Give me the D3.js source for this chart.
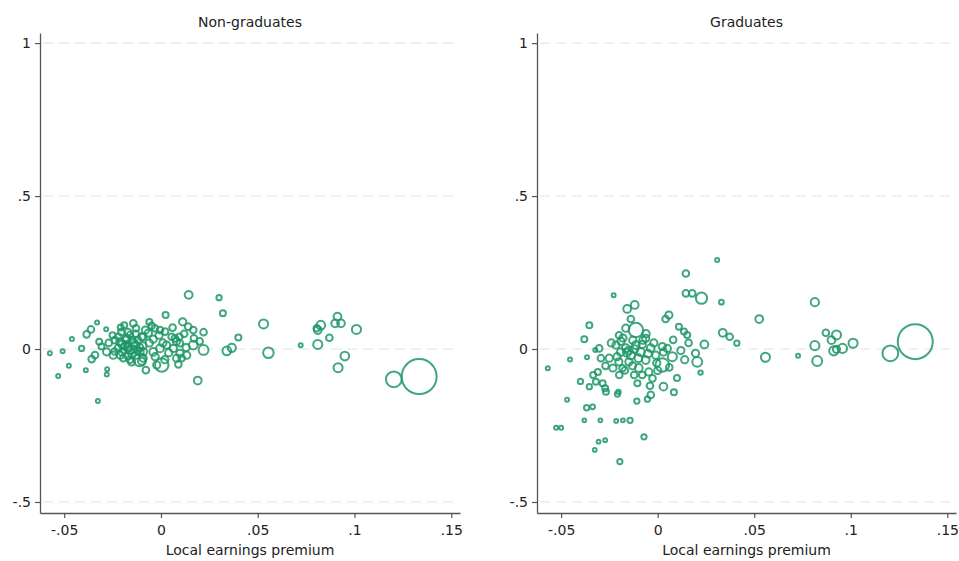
<!DOCTYPE html>
<html>
<head>
<meta charset="utf-8">
<script src="https://cdn.jsdelivr.net/npm/d3@7"></script>
<style>
    body { margin: 0; background: #fff; }
    svg text { font-family: "DejaVu Sans", sans-serif; fill: #222; }
</style>
</head>
<body>
<div id="chart"></div>
<script>
// x = local earnings premium, y = outcome, w = cell weight (bubble size)
const nonGradPoints = [
    [-0.0574,-0.014,0.8],[-0.0508,-0.007,0.8],[-0.0531,-0.088,0.8],[-0.0476,-0.055,0.8],
    [-0.046,0.033,0.8],[-0.041,0.002,1.5],[-0.0388,-0.069,0.8],[-0.033,0.087,0.8],
    [-0.0326,-0.170,0.8],[-0.0283,0.065,0.8],[-0.0278,-0.066,0.8],[-0.028,-0.083,0.8],
    [-0.0362,0.064,2.5],[-0.0384,0.048,2.5],[-0.0358,-0.033,2.5],[-0.0341,-0.020,2.5],
    [-0.0307,0.008,2],[-0.0319,0.024,2],[-0.0281,-0.009,3],[-0.0247,-0.020,3],
    [-0.0208,0.070,2],[-0.0143,0.084,2.5],[-0.0129,0.068,2.5],[-0.0048,0.076,2.5],
    [-0.0031,0.068,2.5],[-0.0005,0.062,2.5],[0.0021,0.057,2.5],[0.0055,0.040,2.5],
    [0.0095,0.040,2.5],[-0.0092,0.040,3],[-0.0177,0.035,3],[-0.016,0.046,2.5],
    [-0.0212,0.023,3],[-0.0186,0.010,3.5],[-0.016,-0.003,4],[-0.0134,0.013,3.5],
    [-0.0109,-0.010,3.5],[-0.0202,-0.010,3],[-0.0171,-0.023,3],[-0.0129,-0.020,3],
    [-0.0222,0.003,2.5],[-0.015,0.029,3],[-0.0119,0.029,2.5],[-0.0176,0.016,2],
    [-0.0093,0.010,3],[-0.0238,0.029,2.5],[-0.0092,-0.009,3.5],[-0.004,-0.009,3.5],
    [-0.0005,0.002,3.5],[0.0029,0.013,3],[0.0064,0.002,3],[0.0098,-0.014,3],
    [0.0133,-0.020,3],[0.0167,0.013,4.5],[-0.0022,-0.052,3],[0.0004,-0.052,12],
    [-0.0152,-0.042,3],[-0.0092,-0.030,3],[-0.0195,-0.030,2.5],[0.0081,-0.030,3],
    [0.0107,-0.030,2.5],[-0.0078,-0.069,2.5],[0.019,-0.103,3.5],[0.0024,0.111,2],
    [0.0112,0.089,3],[0.0141,0.073,2.5],[0.0167,0.062,2.5],[0.022,0.055,2.5],
    [0.0072,0.035,2.5],[0.0098,0.019,2.5],[0.0143,0.177,3.6],[0.030,0.168,1.5],
    [0.032,0.117,2],[0.040,0.038,2],[0.053,0.082,5],[0.034,-0.006,4.5],
    [0.0366,0.004,4],[0.0555,-0.012,7],[0.022,-0.003,6],[0.0722,0.012,0.8],
    [0.081,0.015,5],[0.087,0.037,2.5],[0.081,0.062,3.5],[0.0826,0.078,4.5],
    [0.0805,0.068,2.5],[0.0912,0.106,3.5],[0.090,0.084,3.5],[0.093,0.084,3.5],
    [0.101,0.064,5],[0.095,-0.023,4.5],[0.0915,-0.061,5],[0.1203,-0.099,17],
    [0.1334,-0.090,100],
    [-0.014,0.000,3],[-0.019,-0.005,2.5],[-0.011,0.005,3],[-0.006,0.020,3],
    [-0.003,-0.025,3],[0.004,-0.012,3],[-0.025,0.045,2],[-0.0065,0.052,3],
    [0.012,0.050,2.5],[-0.0205,0.055,2.5],
    [-0.022,0.040,2.5],[-0.017,0.055,2.5],[-0.008,0.062,3],[-0.001,0.045,3],
    [0.006,0.070,2.5],[0.008,0.025,3],[0.013,0.005,3],[-0.004,0.032,3],
    [-0.010,-0.040,3],[-0.024,-0.008,2.5],[-0.013,0.050,2.5],[-0.027,0.020,2.5],
    [0.017,0.035,2.5],[0.002,-0.035,3],[-0.019,0.078,2],[-0.006,0.088,2],
    [0.001,0.020,3],[-0.016,-0.035,2.5],[0.020,0.025,2.5],[0.009,-0.050,2.5],
    [-0.020,0.015,3.5],[-0.017,0.005,3.5],[-0.014,0.020,3.5],[-0.012,-0.005,3],
    [-0.018,0.030,3],[-0.015,-0.015,3.5],[-0.010,0.040,3],[-0.021,-0.020,3],
    [-0.0109,-0.036,10]
];

const gradPoints = [
    [-0.0569,-0.063,0.8],[-0.0454,-0.034,0.8],[-0.0366,-0.027,0.8],[-0.0323,-0.003,0.8],
    [-0.040,-0.106,1.5],[-0.0334,-0.085,2],[-0.032,-0.107,2],[-0.0354,-0.123,1.5],
    [-0.0272,-0.128,2],[-0.0208,-0.147,1.5],[-0.0203,-0.140,1],[-0.0105,-0.112,2],
    [0.0030,-0.123,3.5],[0.0084,-0.141,2],[-0.0036,-0.150,2.5],[-0.0053,-0.164,1.5],
    [-0.0108,-0.170,1.5],[-0.0469,-0.166,0.8],[-0.0368,-0.192,1.5],[-0.0337,-0.189,1.2],
    [-0.0526,-0.257,0.8],[-0.050,-0.257,0.8],[-0.038,-0.233,0.7],[-0.0297,-0.233,0.7],
    [-0.0215,-0.235,0.7],[-0.018,-0.233,0.7],[-0.0143,-0.233,1.5],[-0.0306,-0.303,0.7],
    [-0.0272,-0.298,0.7],[-0.0326,-0.330,0.7],[-0.0071,-0.287,1.5],[-0.0196,-0.368,1.5],
    [-0.0354,0.078,2],[-0.038,0.032,2],[-0.0228,0.176,0.8],[-0.0158,0.131,3.5],
    [-0.0119,0.144,3.5],[-0.0139,0.098,2.5],[0.0041,0.098,2.5],[0.0058,0.111,3],
    [0.011,0.073,2],[0.0136,0.057,2],[0.0153,0.046,2],[0.0308,0.291,0.8],
    [0.0146,0.247,2.5],[0.0146,0.182,2.5],[0.0179,0.182,2.5],[0.0227,0.166,8],
    [0.033,0.153,1.2],[0.0337,0.053,3.5],[0.0373,0.040,2.5],[0.041,0.019,1.5],
    [0.0242,0.015,3.5],[0.0196,-0.014,3],[0.0205,-0.042,6],[0.0076,-0.025,5],
    [0.005,0.002,3],[0.0024,0.008,3],[0.0222,-0.077,1],[-0.0165,0.068,3],
    [-0.0113,0.062,14],[-0.0062,0.035,3],[-0.0303,0.002,2.5],[-0.0251,-0.030,3],
    [-0.0294,-0.030,2.5],
    [-0.0216,0.013,3],[-0.0191,-0.010,3.5],[-0.0165,0.003,3.5],[-0.0139,-0.020,4],
    [-0.0113,0.013,3.5],[-0.0088,-0.010,4],[-0.0062,-0.036,3.5],[-0.0036,0.003,3.5],
    [-0.001,-0.020,3],[-0.0149,-0.042,3],[-0.0098,-0.062,3.5],[-0.0046,-0.075,3],
    [-0.0201,-0.042,3],[-0.0232,-0.062,3],[-0.0077,0.029,3],[-0.018,0.036,3],
    [-0.0129,0.029,3],[-0.0005,-0.046,3],
    [0.0024,-0.052,12],[-0.0122,-0.085,2.5],[-0.0027,-0.096,2.5],[-0.0182,-0.063,2.5],
    [-0.0199,-0.085,2.5],[-0.0285,-0.112,2],[-0.0268,-0.140,2],
    [-0.024,0.020,3],[-0.020,0.045,2.5],[-0.015,-0.005,3.5],[-0.010,-0.030,3.5],
    [-0.006,0.050,3],[-0.002,0.020,3],[0.003,-0.010,3],[0.008,0.030,2.5],
    [0.012,-0.005,3],[0.016,0.020,2.5],[-0.021,-0.025,3],[-0.017,-0.070,2.5],
    [-0.008,-0.085,2.5],[0.000,-0.070,3],[0.006,-0.060,2.5],[0.014,-0.035,3],
    [-0.027,-0.055,2.5],[-0.031,-0.075,2],[-0.004,-0.120,2.5],[0.010,-0.095,2],
    [-0.016,-0.012,3.5],[-0.012,0.000,3.5],[-0.008,0.015,3],[-0.019,0.025,3],
    [-0.005,-0.015,3.5],[-0.013,-0.055,3],
    [0.0526,0.098,3.5],[0.0814,0.153,4],[0.0558,-0.027,5],[0.0727,-0.022,0.8],
    [0.0814,0.011,5],[0.0826,-0.039,6],[0.0871,0.053,2.5],[0.0926,0.046,5],
    [0.090,0.029,3.5],[0.0912,-0.006,5],[0.0926,-0.001,3],[0.0957,0.002,5],
    [0.1012,0.019,5],[0.1205,-0.014,17],[0.1334,0.024,100]
];

const panelTitles = ['Non-graduates', 'Graduates'];
const xTicks = [-0.05, 0, 0.05, 0.1, 0.15];
const xTickLabels = ['-.05', '0', '.05', '.1', '.15'];
const yTicks = [-0.5, 0, 0.5, 1];
const yTickLabels = ['-.5', '0', '.5', '1'];
const xTitle = 'Local earnings premium';

const W = 959, H = 561;
const svg = d3.select('#chart').append('svg')
    .attr('width', W)
    .attr('height', H);

// marker size grows a bit faster than sqrt for small weights, like the original
const maxWeight = d3.max(nonGradPoints.concat(gradPoints), d => d[2]);
const rScale = d3.scalePow().exponent(0.45).domain([0, maxWeight]).range([0, 17.5]);

function drawPanel(points, title, left, right) {
    const top = 33, bottom = 513;

    const x = d3.scaleLinear().domain([-0.0625, 0.1545]).range([left, right]);
    const y = d3.scaleLinear().domain([-0.536, 1.033]).range([bottom, top]);

    const g = svg.append('g');

    // dashed grid lines
    g.selectAll('.grid')
        .data(yTicks)
        .enter()
        .append('line')
        .attr('x1', left + 3)
        .attr('x2', right - 3)
        .attr('y1', d => y(d))
        .attr('y2', d => y(d))
        .attr('stroke', '#e2e2e2')
        .attr('stroke-width', 1)
        .attr('stroke-dasharray', '10,6');

    // points
    g.selectAll('.pt')
        .data(points)
        .enter()
        .append('circle')
        .attr('cx', d => x(d[0]))
        .attr('cy', d => y(d[1]))
        .attr('r', d => rScale(d[2]))
        .attr('fill', 'none')
        .attr('stroke', '#1f9668')
        .attr('stroke-opacity', 0.85)
        .attr('stroke-width', 2);

    // axes
    const xAxis = d3.axisBottom(x)
        .tickValues(xTicks)
        .tickFormat((d, i) => xTickLabels[i])
        .tickSizeInner(5)
        .tickSizeOuter(0)
        .tickPadding(7);
    const yAxis = d3.axisLeft(y)
        .tickValues(yTicks)
        .tickFormat((d, i) => yTickLabels[i])
        .tickSizeInner(5)
        .tickSizeOuter(0)
        .tickPadding(4);

    const gx = g.append('g')
        .attr('transform', `translate(0,${bottom})`)
        .call(xAxis);
    const gy = g.append('g')
        .attr('transform', `translate(${left},0)`)
        .call(yAxis);

    [gx, gy].forEach(a => {
        a.select('.domain').attr('stroke', '#555').attr('stroke-width', 1.3);
        a.selectAll('.tick line').attr('stroke', '#555').attr('stroke-width', 1.2);
        a.selectAll('.tick text')
            .attr('font-size', 14)
            .attr('font-family', '"DejaVu Sans", sans-serif')
            .attr('fill', '#222');
    });

    // titles
    g.append('text')
        .attr('x', (left + right) / 2)
        .attr('y', 27)
        .attr('text-anchor', 'middle')
        .attr('font-size', 14)
        .text(title);

    g.append('text')
        .attr('x', (left + right) / 2)
        .attr('y', 555)
        .attr('text-anchor', 'middle')
        .attr('font-size', 14)
        .text(xTitle);
}

drawPanel(nonGradPoints, panelTitles[0], 40, 460);
drawPanel(gradPoints, panelTitles[1], 537, 956);
</script>
</body>
</html>
